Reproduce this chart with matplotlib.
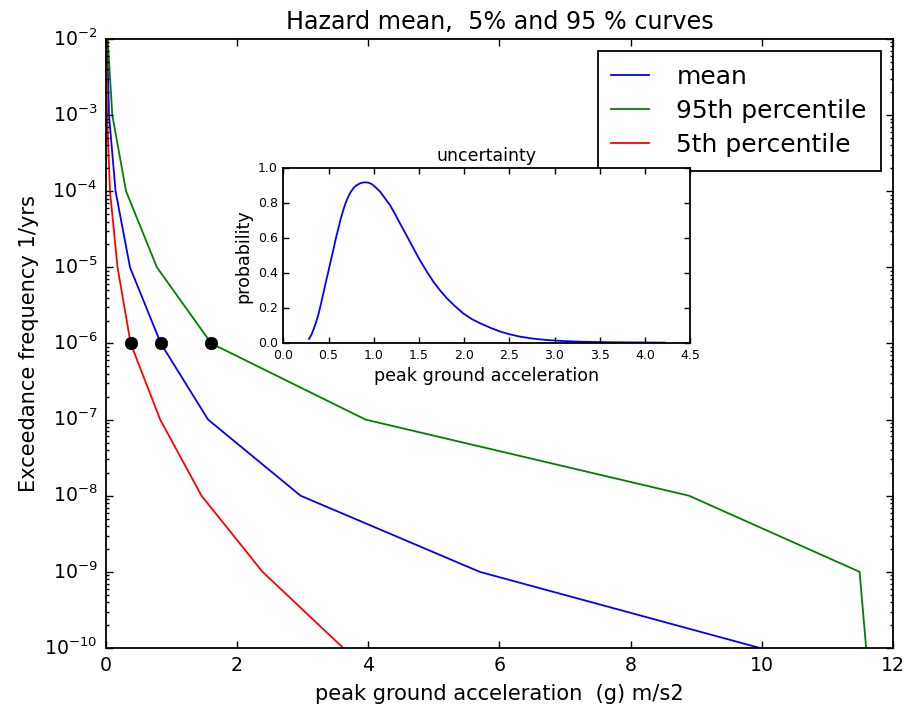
import matplotlib
matplotlib.use("Agg")
import matplotlib.pyplot as plt
import numpy as np

plt.style.use('classic')
plt.rcParams['font.family'] = ['DejaVu Sans']

# Exceedance frequency levels (1/yrs)
freq = [1e-2, 1e-3, 1e-4, 1e-5, 1e-6, 1e-7, 1e-8, 1e-9, 1e-10]
# peak ground acceleration for each curve
pga_mean = [0.02, 0.05, 0.15, 0.37, 0.84, 1.56, 2.97, 5.70, 9.97]
pga_p95 = [0.03, 0.10, 0.31, 0.78, 1.61, 3.96, 8.89, 11.49, 11.59]
pga_p05 = [0.01, 0.02, 0.065, 0.18, 0.38, 0.83, 1.46, 2.39, 3.62]

# marked points at 1e-6
dot_x = [0.38, 0.84, 1.61]
dot_y = [1e-6, 1e-6, 1e-6]

# inset: uncertainty distribution
unc_x = [0.284, 0.31, 0.332, 0.36, 0.387, 0.415, 0.443, 0.47, 0.498, 0.525, 0.553,
         0.58, 0.609, 0.636, 0.664, 0.69, 0.719, 0.745, 0.775, 0.81,
         0.848, 0.875, 0.904, 0.94, 0.978, 1.02, 1.07, 1.12, 1.18, 1.235, 1.29, 1.345,
         1.40, 1.455, 1.51, 1.585, 1.66, 1.735, 1.81, 1.90,
         1.99, 2.08, 2.18, 2.29, 2.40, 2.51, 2.62, 2.76, 2.91, 3.10, 3.28, 3.46, 3.65, 3.93, 4.22]
unc_p = [0.025, 0.048, 0.076, 0.117, 0.162, 0.222, 0.286, 0.348, 0.41, 0.472, 0.533,
         0.597, 0.657, 0.713, 0.762, 0.803, 0.838, 0.864, 0.886, 0.903,
         0.914, 0.918, 0.920, 0.918, 0.910, 0.892, 0.867, 0.832, 0.790, 0.740, 0.686, 0.634,
         0.581, 0.528, 0.476, 0.412, 0.352, 0.302, 0.257, 0.212,
         0.171, 0.140, 0.114, 0.089, 0.067, 0.051, 0.038, 0.027, 0.019, 0.013, 0.0095, 0.0075, 0.006, 0.005, 0.004]

fig = plt.figure(figsize=(9.06, 7.06), dpi=100, facecolor='white')
ax = fig.add_axes([0.1167, 0.0822, 0.869, 0.8626])
ax.set_facecolor('white')

ax.plot(pga_mean, freq, color='blue', lw=1.3, label='mean')
ax.plot(pga_p95, freq, color='green', lw=1.3, label='95th percentile')
ax.plot(pga_p05, freq, color='red', lw=1.3, label='5th percentile')
ax.plot(dot_x, dot_y, 'o', color='black', markersize=9, markeredgecolor='black')

ax.set_yscale('log')
ax.set_xlim(0, 12)
ax.set_ylim(1e-10, 1e-2)
ax.set_xticks([0, 2, 4, 6, 8, 10, 12])
ax.tick_params(axis='both', which='major', labelsize=13.6, length=5, width=1, direction='in', pad=6)
ax.tick_params(axis='both', which='minor', length=2.5, width=1, direction='in')
for s in ax.spines.values():
    s.set_linewidth(1.3)

ax.set_title('Hazard mean,  5% and 95 % curves', fontsize=17.2, pad=7)
ax.set_xlabel('peak ground acceleration  (g) m/s2', fontsize=15.1, labelpad=6)
ax.set_ylabel('Exceedance frequency 1/yrs', fontsize=15.1, labelpad=4)

leg = ax.legend(loc='upper right', fontsize=18, handlelength=1.5, handletextpad=1.1,
                labelspacing=0.4, borderpad=0.55, borderaxespad=0.5, fancybox=False, numpoints=1)
leg.get_frame().set_linewidth(1.3)
leg.get_frame().set_edgecolor('black')

ins = fig.add_axes([0.3127, 0.5137, 0.449, 0.2479])
ins.set_facecolor('white')
ins.plot(unc_x, unc_p, color='blue', lw=1.3)
ins.set_xlim(0, 4.5)
ins.set_ylim(0, 1.0)
ins.set_xticks(np.arange(0, 4.51, 0.5))
ins.set_yticks(np.arange(0, 1.01, 0.2))
ins.tick_params(axis='both', which='major', labelsize=9, length=4, width=1, direction='in', pad=4)
for s in ins.spines.values():
    s.set_linewidth(1.3)
ins.set_title('uncertainty', fontsize=12.5, pad=5)
ins.set_xlabel('peak ground acceleration', fontsize=12.6, labelpad=4)
ins.set_ylabel('probability', fontsize=12.6, labelpad=4)

fig.savefig('out.png', dpi=100, facecolor='white')
